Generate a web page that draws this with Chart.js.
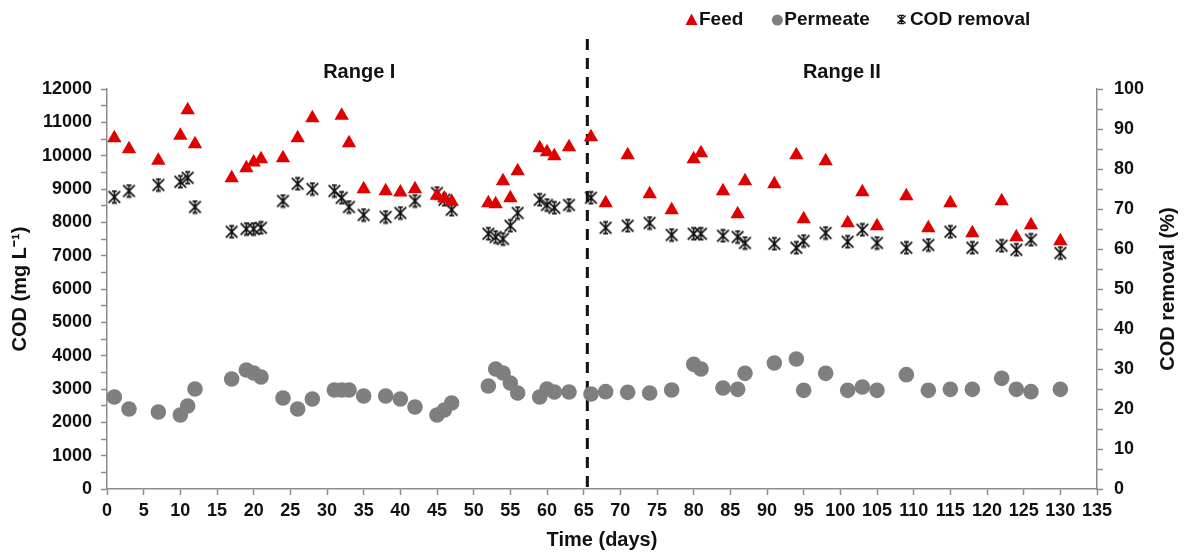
<!DOCTYPE html>
<html>
<head>
  <meta charset="UTF-8">
  <title>COD feed / permeate / removal</title>
  <script src="https://cdn.jsdelivr.net/npm/chart.js"></script>
  <style>
    html, body {
      margin: 0;
      padding: 0;
      background: #ffffff;
    }
    .wrap {
      width: 1187px;
      height: 554px;
    }
  </style>
</head>
<body>
  <div class="wrap">
    <canvas id="codChart" width="1187" height="554"></canvas>
  </div>

  <script>
    // days of sampling + values
    const feedDays = [1, 3, 7, 10, 11, 12, 17, 19, 20, 21, 24, 26, 28, 32, 33, 35, 38, 40, 42, 45, 46, 47,
      52, 53, 54, 55, 56, 59, 60, 61, 63, 66, 68, 71, 74, 77, 80, 81, 84, 86, 87, 91, 94, 95, 98,
      101, 103, 105, 109, 112, 115, 118, 122, 124, 126, 130];
    const feedCod = [10530, 10200, 9850, 10600, 11370, 10350, 9330, 9630, 9800, 9900, 9930, 10530, 11130, 11200, 10380, 9000, 8940, 8900, 9000, 8800, 8720, 8620,
      8580, 8550, 9240, 8730, 9540, 10230, 10110, 9990, 10260, 10560, 8580, 10020, 8850, 8370, 9900, 10080, 8940, 8250, 9240, 9150, 10020, 8100, 9840,
      7980, 8910, 7890, 8790, 7830, 8580, 7680, 8640, 7560, 7920, 7440];

    const permDays = [1, 3, 7, 10, 11, 12, 17, 19, 20, 21, 24, 26, 28, 31, 32, 33, 35, 38, 40, 42, 45, 46, 47,
      52, 53, 54, 55, 56, 59, 60, 61, 63, 66, 68, 71, 74, 77, 80, 81, 84, 86, 87, 91, 94, 95, 98,
      101, 103, 105, 109, 112, 115, 118, 122, 124, 126, 130];
    const permCod = [2760, 2400, 2310, 2220, 2490, 3000, 3300, 3570, 3480, 3360, 2730, 2400, 2700, 2970, 2970, 2970, 2790, 2790, 2700, 2460, 2220, 2370, 2580,
      3090, 3600, 3480, 3180, 2880, 2760, 3000, 2910, 2910, 2850, 2920, 2900, 2880, 2970, 3740, 3600, 3030, 2990, 3470, 3780, 3900, 2960, 3470,
      2960, 3060, 2960, 3430, 2960, 2990, 2990, 3320, 2990, 2920, 2990];

    const remDays = [1, 3, 7, 10, 11, 12, 17, 19, 20, 21, 24, 26, 28, 31, 32, 33, 35, 38, 40, 42, 45, 46, 47,
      52, 53, 54, 55, 56, 59, 60, 61, 63, 66, 68, 71, 74, 77, 80, 81, 84, 86, 87, 91, 94, 95, 98,
      101, 103, 105, 109, 112, 115, 118, 122, 124, 126, 130];
    const remPct = [73, 74.5, 76, 76.8, 77.8, 70.5, 64.3, 65, 65, 65.3, 72, 76.3, 75, 74.5, 72.8, 70.5, 68.5, 68, 69, 72, 74, 72.3, 69.8,
      63.8, 63, 62.5, 65.8, 69, 72.3, 71, 70.3, 71, 72.8, 65.3, 65.8, 66.5, 63.5, 63.8, 63.8, 63.3, 63, 61.5, 61.3, 60.3, 62, 64,
      61.8, 64.8, 61.5, 60.3, 61, 64.3, 60.3, 60.8, 59.8, 62.3, 59];

    const ranges = [
      { label: 'Range I', mid: 34.4 },
      { label: 'Range II', mid: 100.2 }
    ];
    const rangeSplit = 65.5;

    const axisGray = '#8c8c8c';
    const txt = '#111111';
    const fam = '"Liberation Sans", Arial, Helvetica, sans-serif';
    const feedRed = '#e00000';
    const permGray = '#7f7f7f';

    // excel style "star" marker: an X with a vertical bar
    function starMarker(size, color, lw) {
      const c = document.createElement('canvas');
      c.width = size;
      c.height = size;
      const g = c.getContext('2d');
      g.strokeStyle = color;
      g.lineWidth = lw;
      const a = lw, b = size - lw;
      g.beginPath();
      g.moveTo(a, a); g.lineTo(b, b);
      g.moveTo(b, a); g.lineTo(a, b);
      g.moveTo(size / 2, a); g.lineTo(size / 2, b);
      g.moveTo(size / 2 - 2.5, a); g.lineTo(size / 2 + 2.5, a);
      g.moveTo(size / 2 - 2.5, b); g.lineTo(size / 2 + 2.5, b);
      g.stroke();
      return c;
    }
    const starBig = starMarker(15, '#111', 1.7);
    const starSmall = starMarker(11, '#111', 1.4);

    const pairs = (xs, ys) => xs.map((d, i) => ({ x: d, y: ys[i] }));

    // dashed divider, range labels, right title and the legend
    const extras = {
      id: 'extras',
      beforeDatasetsDraw(chart) {
        const { ctx, scales } = chart;
        const x = scales.x.getPixelForValue(rangeSplit);
        ctx.save();
        ctx.strokeStyle = '#111';
        ctx.lineWidth = 3;
        ctx.setLineDash([11, 8]);
        ctx.beginPath();
        ctx.moveTo(x, scales.y.getPixelForValue(13500));
        ctx.lineTo(x, scales.y.getPixelForValue(0));
        ctx.stroke();
        ctx.restore();
      },
      afterDraw(chart) {
        const { ctx, scales } = chart;
        ctx.save();
        ctx.fillStyle = txt;
        ctx.font = 'bold 20px ' + fam;
        ctx.textAlign = 'center';
        ctx.textBaseline = 'middle';
        ranges.forEach(r => {
          ctx.fillText(r.label, scales.x.getPixelForValue(r.mid), scales.y.getPixelForValue(12500));
        });

        // right axis title, reads bottom to top like the left one
        const ry = (chart.chartArea.top + chart.chartArea.bottom) / 2;
        ctx.translate(scales.y1.right - 19, ry);
        ctx.rotate(-Math.PI / 2);
        ctx.fillText('COD removal (%)', 0, 0);
        ctx.restore();

        // legend
        ctx.save();
        ctx.font = 'bold 19px ' + fam;
        ctx.textAlign = 'left';
        ctx.textBaseline = 'middle';
        ctx.fillStyle = txt;
        const ly = 20;
        let lx = 686;
        // feed triangle
        ctx.fillStyle = feedRed;
        ctx.beginPath();
        ctx.moveTo(lx + 5.5, ly - 6.5);
        ctx.lineTo(lx + 11.5, ly + 5);
        ctx.lineTo(lx - 0.5, ly + 5);
        ctx.closePath();
        ctx.fill();
        ctx.fillStyle = txt;
        ctx.fillText('Feed', lx + 13, ly);
        lx += 13 + ctx.measureText('Feed').width + 29;
        // permeate circle
        ctx.fillStyle = permGray;
        ctx.beginPath();
        ctx.arc(lx + 5, ly, 5.5, 0, Math.PI * 2);
        ctx.fill();
        ctx.fillStyle = txt;
        ctx.fillText('Permeate', lx + 12, ly);
        lx += 12 + ctx.measureText('Permeate').width + 26;
        ctx.drawImage(starSmall, lx, ly - 6);
        ctx.fillText('COD removal', lx + 14, ly);
        ctx.restore();
      }
    };

    const tickFont = { family: fam, size: 18, weight: 'bold' };

    new Chart(document.getElementById('codChart'), {
      type: 'scatter',
      data: {
        datasets: [
          {
            label: 'Feed',
            data: pairs(feedDays, feedCod),
            yAxisID: 'y',
            pointStyle: 'triangle',
            pointRadius: 8.3,
            pointHoverRadius: 8.3,
            backgroundColor: feedRed,
            borderColor: feedRed,
            borderWidth: 0
          },
          {
            label: 'Permeate',
            data: pairs(permDays, permCod),
            yAxisID: 'y',
            pointStyle: 'circle',
            pointRadius: 7.8,
            pointHoverRadius: 7.8,
            backgroundColor: permGray,
            borderColor: permGray,
            borderWidth: 0
          },
          {
            label: 'COD removal',
            data: pairs(remDays, remPct),
            yAxisID: 'y1',
            pointStyle: starBig,
            pointRadius: 7,
            backgroundColor: '#111',
            borderColor: '#111'
          }
        ]
      },
      options: {
        responsive: false,
        animation: false,
        events: [],
        layout: { padding: { top: 89, left: 0, right: 0, bottom: 0 } },
        plugins: {
          legend: { display: false },
          tooltip: { enabled: false }
        },
        scales: {
          x: {
            type: 'linear',
            min: 0,
            max: 135,
            ticks: { stepSize: 5, autoSkip: false, maxRotation: 0, color: txt, font: tickFont, padding: 5 },
            grid: { drawOnChartArea: false, tickLength: 6, tickWidth: 1.5, color: axisGray },
            border: { color: axisGray, width: 1.5 },
            title: {
              display: true,
              text: 'Time (days)',
              color: txt,
              font: { family: fam, size: 20, weight: 'bold' },
              padding: { top: 0, bottom: 2 }
            },
            afterFit: s => { s.height = 65; }
          },
          y: {
            position: 'left',
            min: 0,
            max: 12000,
            ticks: {
              stepSize: 500,
              autoSkip: false,
              color: txt,
              font: tickFont,
              padding: 9,
              callback: v => (v % 1000 === 0 ? v : '')
            },
            grid: { drawOnChartArea: false, tickLength: 6, tickWidth: 1.5, color: axisGray },
            border: { color: axisGray, width: 1.5 },
            title: {
              display: true,
              text: 'COD (mg L\u207B\u00B9)',
              color: txt,
              font: { family: fam, size: 20, weight: 'bold' },
              padding: { top: 8, bottom: 0 }
            },
            afterFit: s => { s.width = 107; }
          },
          y1: {
            position: 'right',
            min: 0,
            max: 100,
            ticks: {
              stepSize: 5,
              autoSkip: false,
              color: txt,
              font: tickFont,
              padding: 11,
              callback: v => (v % 10 === 0 ? v : '')
            },
            grid: { drawOnChartArea: false, tickLength: 6, tickWidth: 1.5, color: axisGray },
            border: { color: axisGray, width: 1.5 },
            afterFit: s => { s.width = 90; }
          }
        }
      },
      plugins: [extras]
    });
  </script>
</body>
</html>
